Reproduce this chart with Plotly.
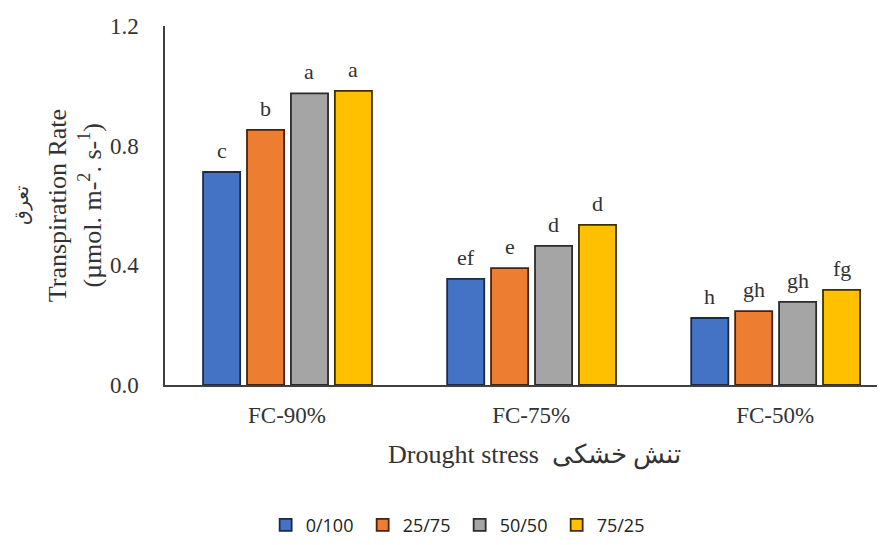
import plotly.graph_objects as go

# ------------------- Datos -------------------
categorias = ['FC-90%', 'FC-75%', 'FC-50%']
series = ['0/100', '25/75', '50/50', '75/25']
valores_0_100 = [0.712, 0.355, 0.224]
valores_25_75 = [0.853, 0.391, 0.247]
valores_50_50 = [0.975, 0.465, 0.278]
valores_75_25 = [0.983, 0.535, 0.318]
letras_0_100 = ['c', 'ef', 'h']
letras_25_75 = ['b', 'e', 'gh']
letras_50_50 = ['a', 'd', 'gh']
letras_75_25 = ['a', 'd', 'fg']
y_ticks = [0.0, 0.4, 0.8, 1.2]

valores = [valores_0_100, valores_25_75, valores_50_50, valores_75_25]
letras = [letras_0_100, letras_25_75, letras_50_50, letras_75_25]

# ------------------- Estilo -------------------
colores = ['#4472C4', '#ED7D31', '#A5A5A5', '#FFC000']
bordes = ['#1c2a4a', '#4a2208', '#2b2b2b', '#3d3000']
ancho = 0.152
paso = 0.18
inicio = -0.344
serif = 'Liberation Serif, Times New Roman, DejaVu Serif'
gris = '#333333'

fig = go.Figure()
x_pos = list(range(len(categorias)))
for i, nombre in enumerate(series):
    fig.add_trace(go.Bar(x=x_pos, y=valores[i], name=nombre, width=ancho, offset=inicio + i*paso,
                         marker=dict(color=colores[i], line=dict(color=bordes[i], width=1.8))))
    # Letras de significancia
    for j, xc in enumerate(x_pos):
        fig.add_annotation(x=xc + inicio + i*paso + ancho/2, y=valores[i][j], text=letras[i][j],
                           showarrow=False, yanchor='bottom', yshift=7,
                           font=dict(family=serif, size=22, color=gris))

# Titulo del eje y (tres lineas)
for xp, txt, fs in [(-0.199, 'تعرق', 19),
                    (-0.149, 'Transpiration Rate', 26),
                    (-0.104, '(µmol. m-<sup>2</sup>. s-<sup>1</sup>)', 26)]:
    fig.add_annotation(x=xp, y=0.5, xref='paper', yref='paper', text=txt, textangle=-90,
                       showarrow=False, xanchor='center', yanchor='middle',
                       font=dict(family=serif, size=fs, color=gris))

# Titulo del eje x
fig.add_annotation(x=0.5125, y=-0.195, xref='paper', yref='paper', text='Drought stress  تنش خشکی',
                   showarrow=False, xanchor='center', yanchor='middle',
                   font=dict(family=serif, size=26, color=gris))

# la pagina tiene 8px de margen en el body, se compensa en el tamaño
fig.update_layout(
    width=877, height=537,
    margin=dict(l=157, r=0, t=18, b=160),
    plot_bgcolor='white', paper_bgcolor='white',
    barmode='group', showlegend=True,
    legend=dict(orientation='h', xref='container', yref='container', x=0.515, y=0.037,
                xanchor='center', yanchor='middle', itemwidth=30, entrywidth=52,
                font=dict(family='Open Sans, DejaVu Sans', size=18, color='#222222')),
    xaxis=dict(range=[-0.5, 2.45], tickvals=x_pos, ticktext=categorias, showgrid=False, zeroline=False,
               showline=True, linecolor='#404040', linewidth=1.5, ticks='', ticklabelstandoff=9,
               tickfont=dict(family=serif, size=23, color=gris)),
    yaxis=dict(range=[0, 1.2], tickvals=y_ticks, tickformat='.1f', showgrid=False, zeroline=False,
               showline=True, linecolor='#404040', linewidth=1.5, ticks='', ticklabelstandoff=20,
               tickfont=dict(family=serif, size=23, color=gris)),
)

fig.write_html('out.html')
